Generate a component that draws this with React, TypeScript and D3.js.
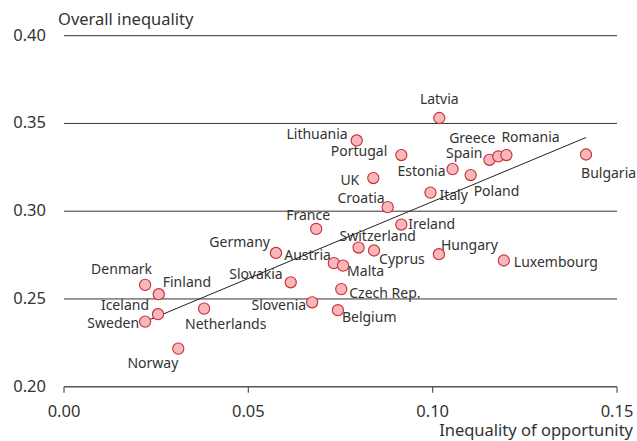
import React from "react";
import * as d3 from "d3";

const countries = ["Latvia","Lithuania","Portugal","UK","Croatia","France","Estonia","Italy","Poland","Spain","Greece","Romania","Bulgaria","Ireland","Switzerland","Cyprus","Hungary","Luxembourg","Austria","Malta","Czech Rep.","Belgium","Slovenia","Slovakia","Germany","Denmark","Finland","Iceland","Sweden","Netherlands","Norway"];
const opportunity = [0.1018,0.0794,0.0915,0.0839,0.0878,0.0684,0.1054,0.0994,0.1103,0.1154,0.1178,0.1200,0.1416,0.0915,0.0799,0.0841,0.1017,0.1193,0.0732,0.0757,0.0752,0.0743,0.0673,0.0615,0.0575,0.0220,0.0257,0.0255,0.0220,0.0380,0.0310];
const overall = [0.3531,0.3403,0.3320,0.3189,0.3023,0.2899,0.3240,0.3106,0.3206,0.3293,0.3312,0.3320,0.3323,0.2924,0.2793,0.2776,0.2755,0.2719,0.2704,0.2690,0.2556,0.2436,0.2481,0.2595,0.2762,0.2580,0.2527,0.2413,0.2371,0.2445,0.2217];
const trendX = [0.0220, 0.1416];
const trendY = [0.2371, 0.3420];
const xTicks = [0, 0.05, 0.10, 0.15];
const yTicks = [0.20, 0.25, 0.30, 0.35, 0.40];

// label placement (layout only)
const labelLayout: Record<string, [string, number, number]> = {
  "Latvia": ["middle", 0, -14],
  "Lithuania": ["end", -9, -1],
  "Portugal": ["end", -14, 1],
  "UK": ["end", -14, 7],
  "Croatia": ["end", -3, -4],
  "France": ["middle", -8, -9],
  "Estonia": ["end", -7, 7],
  "Italy": ["start", 9, 7],
  "Poland": ["start", 3, 21],
  "Spain": ["end", -7, -2],
  "Greece": ["end", -3, -13],
  "Romania": ["start", -5, -13],
  "Bulgaria": ["start", -5, 23],
  "Ireland": ["start", 7, 4],
  "Switzerland": ["start", -19, -7],
  "Cyprus": ["start", 5, 13],
  "Hungary": ["start", 2, -4],
  "Luxembourg": ["start", 10, 6],
  "Austria": ["end", -3, -3],
  "Malta": ["start", 4, 10],
  "Czech Rep.": ["start", 8, 9],
  "Belgium": ["start", 4, 12],
  "Slovenia": ["end", -6, 8],
  "Slovakia": ["end", -8, -3],
  "Germany": ["end", -6, -6],
  "Denmark": ["end", 7, -11],
  "Finland": ["start", 4, -7],
  "Iceland": ["end", -9, -4],
  "Sweden": ["end", -6, 6],
  "Netherlands": ["start", -19, 20],
  "Norway": ["end", 0, 19],
};

export default function App() {
  const W = 637, H = 441;
  const x = d3.scaleLinear().domain([0, 0.15]).range([64, 617]);
  const y = d3.scaleLinear().domain([0.2, 0.4]).range([386.7, 35.7]);
  const font = "'Noto Sans', sans-serif";
  const txt = "#333";
  const line = d3.line<number>().x((_, i) => x(trendX[i])).y((d) => y(d));
  return (
    <svg width={W} height={H} style={{ position: "absolute", left: 0, top: 0, background: "#fff" }} fontFamily={font}>
      {yTicks.filter((t) => t > 0.2).map((t) => (
        <line key={t} x1={x(0)} x2={x(0.15)} y1={y(t)} y2={y(t)} stroke="#333" strokeWidth={1} />
      ))}
      <line x1={x(0)} x2={x(0.15)} y1={y(0.2)} y2={y(0.2)} stroke="#555" strokeWidth={1.5} />
      {xTicks.map((t) => (
        <line key={t} x1={x(t)} x2={x(t)} y1={y(0.2)} y2={y(0.2) + 6} stroke="#555" strokeWidth={1.2} />
      ))}
      {yTicks.map((t) => (
        <text key={t} x={46} y={y(t) + 5} textAnchor="end" fontSize={16.5} fill={txt}>{t.toFixed(2)}</text>
      ))}
      {xTicks.map((t) => (
        <text key={t} x={x(t)} y={417} textAnchor="middle" fontSize={16.5} fill={txt}>{t.toFixed(2)}</text>
      ))}
      <text x={58} y={25} fontSize={16.5} fill={txt}>Overall inequality</text>
      <text x={633} y={436} textAnchor="end" fontSize={16.5} fill={txt}>Inequality of opportunity</text>
      {countries.map((c, i) => {
        const [anchor, dx, dy] = labelLayout[c];
        return (
          <text key={c} x={x(opportunity[i]) + dx} y={y(overall[i]) + dy} textAnchor={anchor as any} fontSize={14} fill={txt}>{c}</text>
        );
      })}
      <path d={line(trendY) || ""} fill="none" stroke="#222" strokeWidth={1} />
      {countries.map((c, i) => (
        <circle key={c} cx={x(opportunity[i])} cy={y(overall[i])} r={5.6} fill="#f6b8bb" stroke="#cf2a33" strokeWidth={1.1} />
      ))}
    </svg>
  );
}
